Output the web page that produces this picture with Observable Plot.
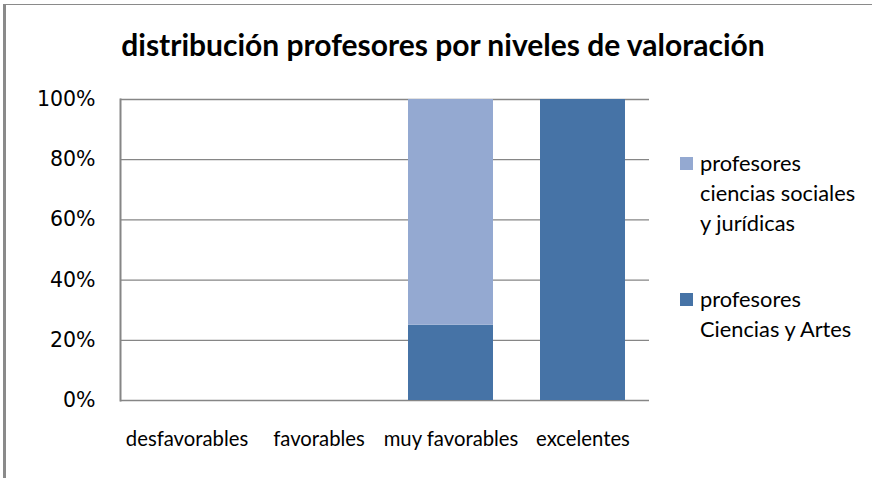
<!DOCTYPE html>
<html>
<head>
<meta charset="utf-8">
<script src="https://cdn.jsdelivr.net/npm/d3@7"></script>
<script src="https://cdn.jsdelivr.net/npm/@observablehq/plot@0.6"></script>
<style>
  html, body { margin: 0; padding: 0; background: #fff; }
  #wrap { position: relative; width: 872px; height: 478px; overflow: hidden; background: #fff; }
  #wrap svg { position: absolute; left: 0; top: 0; }
  .border-top { position: absolute; left: 4px; top: 4px; width: 868px; height: 1px; background: #8a8a8a; }
  .border-left { position: absolute; left: 3px; top: 4px; width: 3px; height: 474px; background: #8a8a8a; }
  #title { position: absolute; left: 0; width: 886px; top: 26px; text-align: center;
           font-family: Lato, sans-serif; font-weight: bold; font-size: 30px; color: #000; white-space: nowrap; }
  .leg { position: absolute; left: 680px; font-family: Lato, sans-serif; font-size: 21.8px; color: #000; line-height: 30px; }
  .leg .sw { position: absolute; left: 0; top: 9px; width: 13px; height: 13px; }
  .leg .tx { position: absolute; left: 20px; top: 0; white-space: nowrap; }
</style>
</head>
<body>
<div id="wrap">
  <div class="border-top"></div>
  <div class="border-left"></div>
  <div id="title"></div>
  <div id="legend"></div>
</div>
<script>
const title = "distribución profesores por niveles de valoración";
const categories = ["desfavorables", "favorables", "muy favorables", "excelentes"];
const seriesNames = ["profesores Ciencias y Artes", "profesores ciencias sociales y jurídicas"];
const legendLines = [["profesores", "ciencias sociales", "y jurídicas"], ["profesores", "Ciencias y Artes"]];
const cienciasArtes = [0, 0, 25, 100];
const socialesJuridicas = [0, 0, 75, 0];
const yTicks = [0, 0.2, 0.4, 0.6, 0.8, 1.0];
const colors = ["#4673A6", "#94A9D1"];

const rows = [];
categories.forEach((c, i) => {
  rows.push({cat: c, series: seriesNames[0], value: cienciasArtes[i] / 100});
  rows.push({cat: c, series: seriesNames[1], value: socialesJuridicas[i] / 100});
});

document.getElementById("title").textContent = title;

const plot = Plot.plot({
  width: 872,
  height: 478,
  marginLeft: 120,
  marginRight: 223,
  marginTop: 99,
  marginBottom: 78,
  style: {background: "transparent", color: "#000"},
  x: {domain: categories, paddingInner: 0.357, paddingOuter: 0.1785, label: null},
  y: {domain: [0, 1], label: null},
  color: {domain: seriesNames, range: colors},
  marks: [
    Plot.ruleY(yTicks, {stroke: "#868686", strokeWidth: 1.3}),
    Plot.frame({anchor: "left", stroke: "#868686", strokeWidth: 2}),
    Plot.barY(rows, Plot.stackY({order: seriesNames}, {x: "cat", y: "value", fill: "series", z: "series"})),
    Plot.axisY(yTicks, {tickSize: 0, tickPadding: 25, tickFormat: d3.format(".0%"), fontSize: 20.5,
      fontFamily: "DejaVu Sans", label: null, letterSpacing: 1.3, fill: "#000"}),
    Plot.axisX({tickSize: 0, tickPadding: 31, fontSize: 20.3, fontFamily: "Lato", label: null, fill: "#000"})
  ]
});
document.getElementById("wrap").insertBefore(plot, document.getElementById("title"));

const legend = document.getElementById("legend");
const legTops = [148, 284];
[1, 0].forEach((si, k) => {
  const d = document.createElement("div");
  d.className = "leg";
  d.style.top = legTops[k] + "px";
  const sw = document.createElement("div");
  sw.className = "sw";
  sw.style.background = colors[si];
  const tx = document.createElement("div");
  tx.className = "tx";
  tx.innerHTML = legendLines[k].join("<br>");
  d.appendChild(sw); d.appendChild(tx);
  legend.appendChild(d);
});
</script>
</body>
</html>
